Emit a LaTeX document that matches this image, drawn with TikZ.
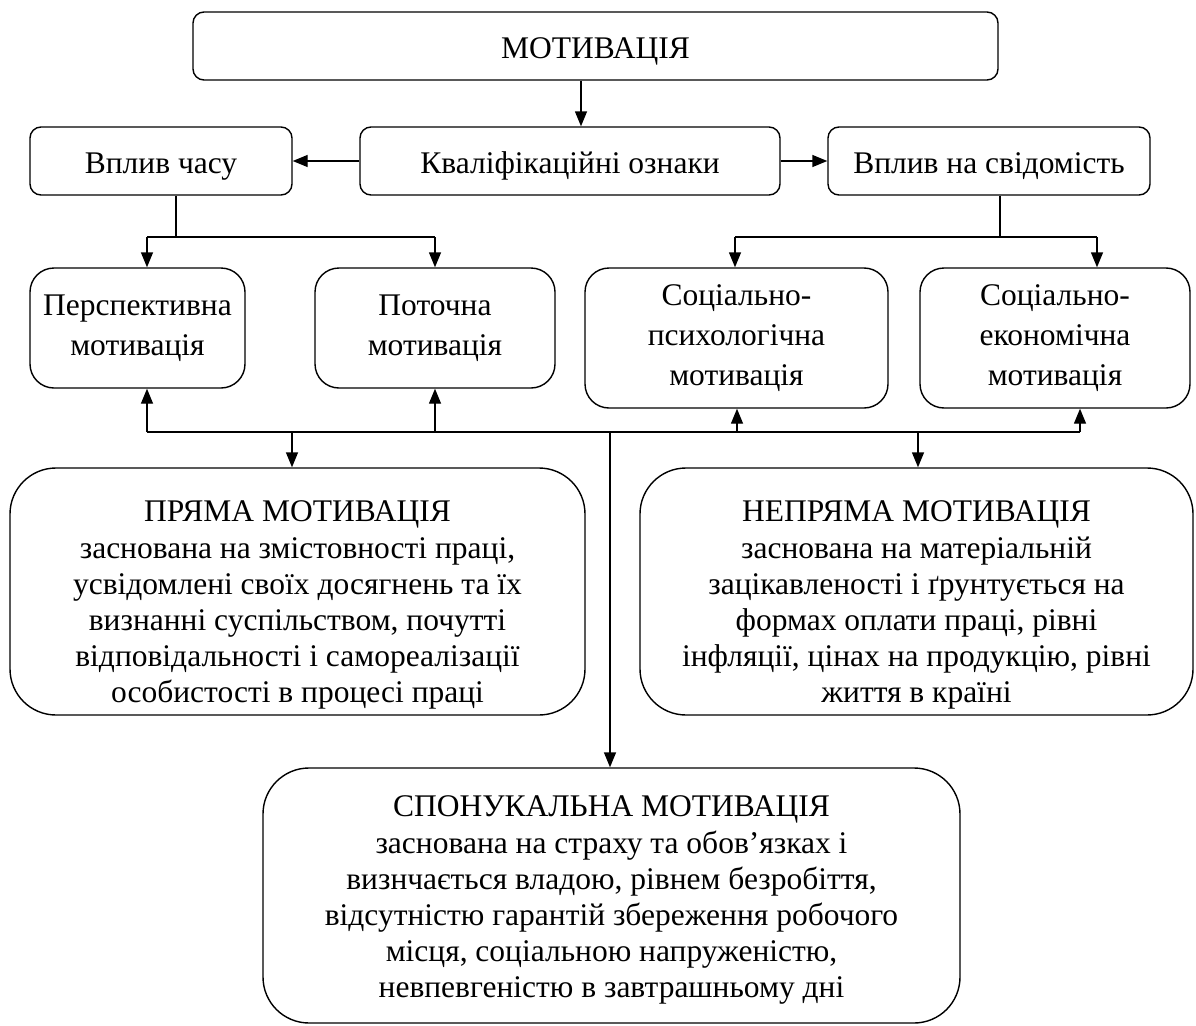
\documentclass[tikz,border=0pt]{standalone}
\usepackage{fontspec}
\setmainfont{Liberation Serif}
\usetikzlibrary{arrows.meta}
\begin{document}
\begin{tikzpicture}[x=1pt,y=-1pt,
  box/.style={draw, line width=1.4pt, align=center, inner sep=0pt,
    font=\fontsize{31.5}{36}\selectfont},
  sbox/.style={box, rounded corners=11pt, minimum height=68pt, text height=28pt, text depth=3pt},
  mbox/.style={box, rounded corners=24pt, font=\fontsize{31.5}{40}\selectfont},
  bbox/.style={box, rounded corners=46pt},
  ln/.style={line width=1.4pt},
  arr/.style={line width=1.4pt, -{Triangle[length=15pt,width=12pt]}}]
\useasboundingbox (0,0) rectangle (1196,1025);
% row 1-2
\node[sbox, minimum width=805pt] (top) at (595.5,46) {МОТИВАЦІЯ};
\node[sbox, minimum width=420pt] (kval) at (570,161) {Кваліфікаційні ознаки};
\node[sbox, minimum width=262pt] (chas) at (161,161) {Вплив часу};
\node[sbox, minimum width=322pt] (svid) at (989,161) {Вплив на свідомість};
% row 3
\node[mbox, minimum width=215pt, minimum height=120pt] (persp) at (137.5,328) {Перспективна\\мотивація};
\node[mbox, minimum width=240pt, minimum height=120pt] (poto) at (435,328) {Поточна\\мотивація};
\node[mbox, minimum width=303pt, minimum height=140pt] (psych) at (736.5,338) {Соціально-\\психологічна\\мотивація};
\node[mbox, minimum width=270pt, minimum height=140pt] (econ) at (1055,338) {Соціально-\\економічна\\мотивація};
% big boxes
\node[bbox, minimum width=575pt, minimum height=247pt] (pryama) at (297.5,591.5) {\rule{0pt}{48pt}ПРЯМА МОТИВАЦІЯ\\[1pt]заснована на змістовності праці,\\усвідомлені своїх досягнень та їх\\визнанні суспільством, почутті\\відповідальності і самореалізації\\особистості в процесі праці};
\node[bbox, minimum width=553pt, minimum height=247pt] (nepr) at (916.5,591.5) {\rule{0pt}{48pt}НЕПРЯМА МОТИВАЦІЯ\\[1pt]заснована на матеріальній\\зацікавленості і ґрунтується на\\формах оплати праці, рівні\\інфляції, цінах на продукцію, рівні\\життя в країні};
\node[bbox, minimum width=697pt, minimum height=255pt] (spon) at (611.5,895.5) {\rule{0pt}{30pt}СПОНУКАЛЬНА МОТИВАЦІЯ\\[1pt]заснована на страху та обов’язках і\\визнчається владою, рівнем безробіття,\\відсутністю гарантій збереження робочого\\місця, соціальною напруженістю,\\невпевгеністю в завтрашньому дні};
% coordinates
\coordinate (xa) at (581,0);
\coordinate (tl) at (176,237);
\coordinate (tl1) at (147,237);
\coordinate (tl2) at (435,237);
\coordinate (tr) at (1000,237);
\coordinate (tr1) at (735,237);
\coordinate (tr2) at (1097,237);
\coordinate (b1) at (147,432);
\coordinate (b2) at (292,432);
\coordinate (b3) at (435,432);
\coordinate (b4) at (610,432);
\coordinate (b5) at (737,432);
\coordinate (b6) at (918,432);
\coordinate (b7) at (1080,432);
% connectors
\draw[arr] (top.south -| xa) -- (kval.north -| xa);
\draw[arr] (kval.west) -- (chas.east);
\draw[arr] (kval.east) -- (svid.west);
\draw[ln] (chas.south -| tl) -- (tl);
\draw[ln] (tl1) -- (tl2);
\draw[arr] (tl1) -- (tl1 |- persp.north);
\draw[arr] (tl2) -- (tl2 |- poto.north);
\draw[ln] (svid.south -| tr) -- (tr);
\draw[ln] (tr1) -- (tr2);
\draw[arr] (tr1) -- (tr1 |- psych.north);
\draw[arr] (tr2) -- (tr2 |- econ.north);
\draw[ln] (b1) -- (b7);
\draw[arr] (b1) -- (b1 |- persp.south);
\draw[arr] (b3) -- (b3 |- poto.south);
\draw[arr] (b5) -- (b5 |- psych.south);
\draw[arr] (b7) -- (b7 |- econ.south);
\draw[arr] (b2) -- (b2 |- pryama.north);
\draw[arr] (b6) -- (b6 |- nepr.north);
\draw[arr] (b4) -- (b4 |- spon.north);
\end{tikzpicture}
\end{document}
